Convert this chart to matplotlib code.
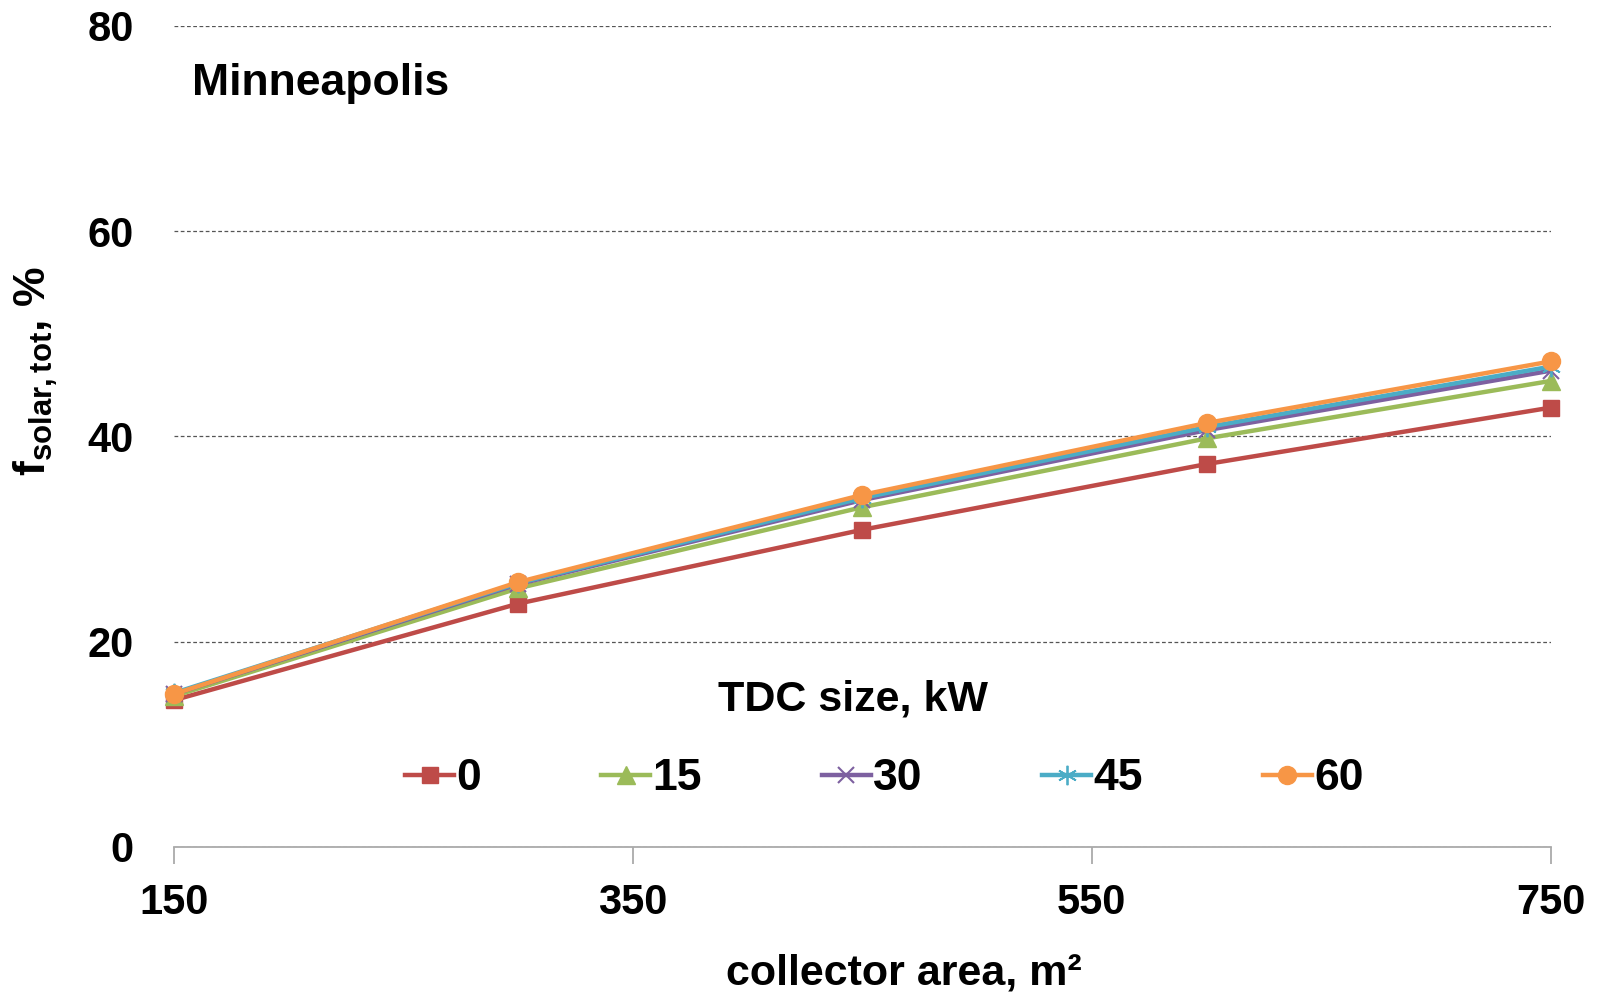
import matplotlib
matplotlib.use("Agg")
import matplotlib.pyplot as plt

plt.rcParams['font.family'] = ['Liberation Sans', 'DejaVu Sans']
plt.rcParams['mathtext.fontset'] = 'custom'
plt.rcParams['mathtext.rm'] = 'Liberation Sans:bold'
plt.rcParams['mathtext.bf'] = 'Liberation Sans:bold'
plt.rcParams['mathtext.it'] = 'Liberation Sans:bold'

collector_area = [150, 300, 450, 600, 750]
tdc_labels = ["0", "15", "30", "45", "60"]
f_0 = [14.3, 23.7, 30.9, 37.3, 42.8]
f_15 = [14.7, 25.2, 33.1, 39.8, 45.4]
f_30 = [14.9, 25.6, 33.8, 40.6, 46.4]
f_45 = [15.0, 25.7, 34.0, 40.9, 46.8]
f_60 = [14.9, 25.8, 34.3, 41.3, 47.3]
series = [f_0, f_15, f_30, f_45, f_60]

colors = ["#BE4B48", "#9BBB59", "#7D60A0", "#4BACC6", "#F79646"]

fig = plt.figure(figsize=(15.97, 9.94), dpi=100)
ax = fig.add_axes([0.109, 0.148, 0.862, 0.826])

handles = []
styles = [
    dict(marker="s", ms=12),
    dict(marker="^", ms=13),
    dict(marker="x", ms=12, mew=1.5),
    dict(marker=(6, 2, 0), ms=14, mew=1.3),
    dict(marker="o", ms=13),
]
for vals, c, st, lab in zip(series, colors, styles, tdc_labels):
    h, = ax.plot(collector_area, vals, color=c, lw=3.2, mec=c, mfc=c,
                 label=lab, clip_on=False, **st)
    handles.append(h)

ax.set_xlim(150, 750)
ax.set_ylim(0, 80)
ax.set_xticks([150, 350, 550, 750])
ax.set_yticks([0, 20, 40, 60, 80])
ax.yaxis.grid(True, color="#555555", ls=(0, (3, 2)), lw=0.9)
ax.set_axisbelow(True)
for s in ["top", "right", "left"]:
    ax.spines[s].set_visible(False)
ax.spines["bottom"].set_color("#AAAAAA")
ax.spines["bottom"].set_linewidth(1.3)
ax.tick_params(axis="y", length=0, pad=29)
ax.tick_params(axis="x", length=12, color="#AAAAAA", width=1.3, pad=14, direction="out")
for lbl in ax.get_xticklabels() + ax.get_yticklabels():
    lbl.set_fontsize(30)
    lbl.set_fontweight("bold")

ax.set_xlabel("collector area, m²", fontsize=31, fontweight="bold")
ax.xaxis.set_label_coords(0.53, -0.13)
ax.set_ylabel(r"$\mathbf{f}_{\mathbf{solar,tot}}$, %", fontsize=32, fontweight="bold")
ax.yaxis.set_label_coords(-0.083, 0.58)

ax.text(0.013, 0.93, "Minneapolis", transform=ax.transAxes, fontsize=32, fontweight="bold",
        ha="left", va="center")
ax.text(0.493, 0.18, "TDC size, kW", transform=ax.transAxes, fontsize=31, fontweight="bold",
        ha="center", va="center")

leg = ax.legend(handles=handles, loc="center", bbox_to_anchor=(0.516, 0.083), ncol=5,
                frameon=False, columnspacing=2.7, handlelength=1.1, handletextpad=0.05,
                prop={"weight": "bold", "size": 32})

fig.savefig("out.png", dpi=100)
